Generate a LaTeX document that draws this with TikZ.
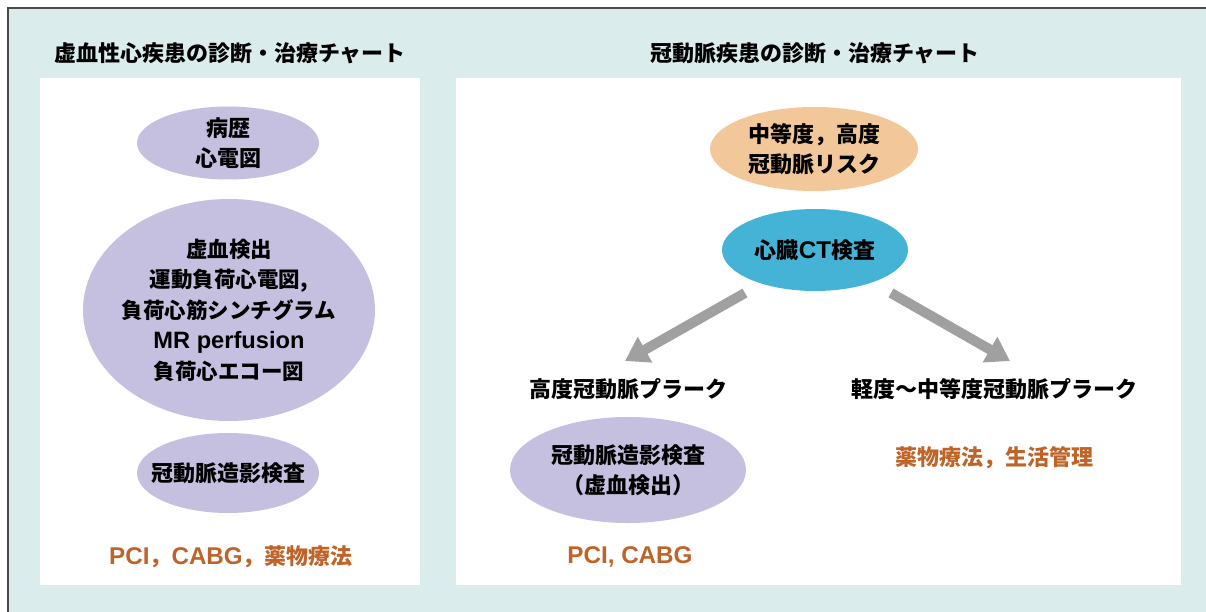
\documentclass[tikz,border=0pt]{standalone}
\usepackage{fontspec}
\setmainfont{Noto Sans CJK JP}
\newfontfamily\lat{Liberation Sans}[Scale=1.1]
\usetikzlibrary{shapes.geometric,arrows.meta}
\definecolor{bgteal}{HTML}{DAEDEC}
\definecolor{framegray}{HTML}{4A4A4A}
\definecolor{lavender}{HTML}{C5C0E0}
\definecolor{peach}{HTML}{F2C79A}
\definecolor{skyblue}{HTML}{44B3D5}
\definecolor{arrowgray}{HTML}{A0A0A0}
\definecolor{rust}{HTML}{BF6428}
\tikzset{
  txt/.style={font=\bfseries\fontsize{22}{30}\selectfont, align=center, inner sep=0pt, text=black},
  bubble/.style={ellipse, inner sep=0pt, draw=none},
  title/.style={font=\bfseries\fontsize{22}{30}\selectfont, inner sep=0pt},
  result/.style={txt, text=rust},
  bigarrow/.style={draw=arrowgray, line width=10pt, -{Triangle[width=28pt,length=23pt]}},
}
\begin{document}
\begin{tikzpicture}[x=1pt,y=-1pt]
\clip (0,0) rectangle (1206,612);
\fill[white] (0,0) rectangle (1206,612);
\draw[fill=bgteal, draw=framegray, line width=1.5pt] (8,8) rectangle (1230,640);
\fill[white] (40,78) rectangle (420,585);
\fill[white] (456,78) rectangle (1181,585);

\node[title] (t1) at (230,53) {虚血性心疾患の診断・治療チャート};
\node[title] (t2) at (815,53) {冠動脈疾患の診断・治療チャート};

% left panel
\node[bubble, fill=lavender, minimum width=182pt, minimum height=73pt,
  label={[txt]center:病歴\\心電図}] (l1) at (228,143) {};
\node[bubble, fill=lavender, minimum width=292pt, minimum height=222pt,
  label={[txt, font=\bfseries\fontsize{21.5}{30.5}\selectfont]center:虚血検出\\運動負荷心電図,\\負荷心筋シンチグラム\\{\lat MR perfusion}\\負荷心エコー図}] (l2) at (229,310) {};
\node[bubble, fill=lavender, minimum width=182pt, minimum height=80pt,
  label={[txt]center:冠動脈造影検査}] (l3) at (228,473) {};
\node[result] (l4) at (231,557) {{\lat PCI}，{\lat CABG}，薬物療法};

% right panel
\node[bubble, fill=peach, minimum width=208pt, minimum height=84pt,
  label={[txt]center:中等度，高度\\冠動脈リスク}] (r1) at (814,149) {};
\node[bubble, fill=skyblue, minimum width=186pt, minimum height=82pt,
  label={[txt]center:心臓{\lat CT}検査}] (r2) at (815,250) {};
\node[txt] (r3) at (628,389) {高度冠動脈プラーク};
\node[txt] (r4) at (994,389) {軽度〜中等度冠動脈プラーク};
\node[bubble, fill=lavender, minimum width=236pt, minimum height=106pt,
  label={[txt]center:冠動脈造影検査\\（虚血検出）}] (r5) at (628,470) {};
\node[result] (r6) at (630,557) {\lat PCI, CABG};
\node[result] (r7) at (994,458) {薬物療法，生活管理};

\coordinate (a1s) at (745,293);
\coordinate (a1e) at (625,361);
\coordinate (a2s) at (891,293);
\coordinate (a2e) at (1010,361);
\draw[bigarrow] (a1s) -- (a1e);
\draw[bigarrow] (a2s) -- (a2e);
\end{tikzpicture}
\end{document}
